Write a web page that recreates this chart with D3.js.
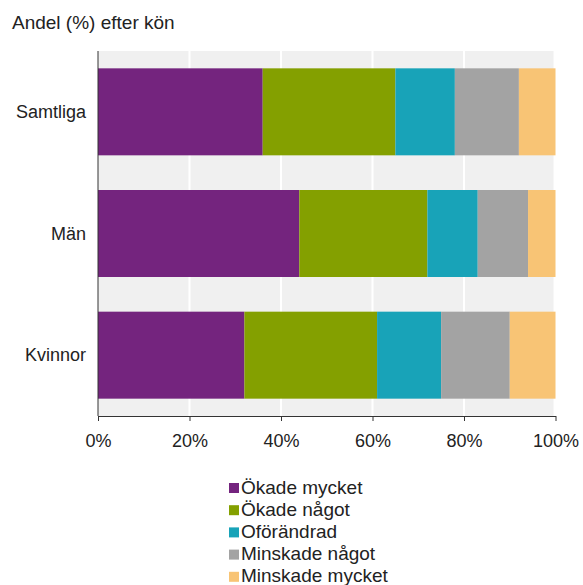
<!DOCTYPE html>
<html><head><meta charset="utf-8">
<script src="https://cdn.jsdelivr.net/npm/d3@7"></script>
<style>body{margin:0;background:#fff;} text{font-family:"Liberation Sans",Arial,sans-serif;}</style>
</head><body>
<svg id="c" width="583" height="585"></svg>
<script>
const categories = ["Samtliga", "Män", "Kvinnor"];
const seriesNames = ["Ökade mycket", "Ökade något", "Oförändrad", "Minskade något", "Minskade mycket"];
const okadeMycket = [36, 44, 32];
const okadeNagot = [29, 28, 29];
const oforandrad = [13, 11, 14];
const minskadeNagot = [14, 11, 15];
const minskadeMycket = [8, 6, 10];
const tickValues = [0, 20, 40, 60, 80, 100];
const colors = ["#74247e", "#84a000", "#18a3b8", "#a3a3a3", "#f8c475"];

const seriesValues = [okadeMycket, okadeNagot, oforandrad, minskadeNagot, minskadeMycket];
const rows = categories.map((c, i) => {
  const o = {cat: c};
  seriesNames.forEach((s, j) => o[s] = seriesValues[j][i]);
  return o;
});
const stack = d3.stack().keys(seriesNames)(rows);

const svg = d3.select("#c");
const mLeft = 98, mRight = 555.5, mTop = 51, mBottom = 416;
const x = d3.scaleLinear().domain([0, 100]).range([mLeft, mRight]);
const y = d3.scaleBand().domain(categories).range([mTop, mBottom]).paddingInner(0.285).paddingOuter(0.1425);

// background
svg.append("rect").attr("x", mLeft).attr("y", mTop).attr("width", x(100) - mLeft - 2).attr("height", mBottom - mTop).attr("fill", "#f0f0f0");
svg.append("g").selectAll("line").data(tickValues.filter(t => t > 0 && t < 100)).join("line")
  .attr("x1", d => x(d)).attr("x2", d => x(d)).attr("y1", mTop).attr("y2", mBottom)
  .attr("stroke", "#fff").attr("stroke-width", 2);

svg.append("g").selectAll("g").data(stack).join("g").attr("fill", (d, i) => colors[i])
  .selectAll("rect").data(d => d).join("rect")
  .attr("x", d => x(d[0])).attr("width", d => x(d[1]) - x(d[0]))
  .attr("y", d => y(d.data.cat)).attr("height", y.bandwidth());

// x axis
const xa = svg.append("g").attr("transform", `translate(0,${mBottom})`)
  .call(d3.axisBottom(x).tickValues(tickValues).tickFormat(d => d + "%").tickSize(5).tickSizeOuter(0));
xa.select(".domain").attr("stroke", "#333");
xa.selectAll(".tick line").attr("stroke", "#333");
xa.selectAll("text").attr("font-size", 18).attr("fill", "#222").attr("dy", "1.26em")
  .style("font-family", "'Liberation Sans',Arial,sans-serif");

// y axis
svg.append("line").attr("x1", mLeft).attr("x2", mLeft).attr("y1", mTop).attr("y2", mBottom).attr("stroke", "#333");
svg.append("g").selectAll("text").data(categories).join("text")
  .attr("x", 86).attr("y", d => y(d) + y.bandwidth() / 2).attr("dy", "0.35em")
  .attr("text-anchor", "end").attr("font-size", 18).attr("fill", "#222").text(d => d);

// title
svg.append("text").attr("x", 12).attr("y", 29).attr("font-size", 19).attr("fill", "#222").text("Andel (%) efter kön");

// legend
const lg = svg.append("g").selectAll("g").data(seriesNames).join("g")
  .attr("transform", (d, i) => `translate(229,${483 + i * 22.2})`);
lg.append("rect").attr("x", 0).attr("y", 0).attr("width", 10).attr("height", 10).attr("fill", (d, i) => colors[i]);
lg.append("text").attr("x", 12).attr("y", 10.5).attr("font-size", 19).attr("fill", "#222").text(d => d);
</script>
</body></html>
